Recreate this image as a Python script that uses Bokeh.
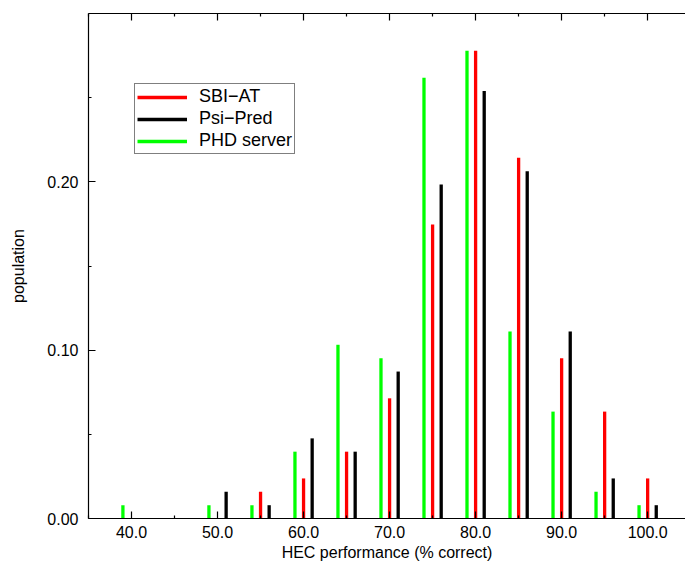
from bokeh.plotting import figure
from bokeh.models import (LinearAxis, FixedTicker, PrintfTickFormatter, Range1d,
                          ColumnDataSource, Legend, LegendItem, CustomJSTickFormatter)
from bokeh.embed import file_html
from bokeh.resources import INLINE

# performance bins (% correct) for each method
sbi_x = [55, 60, 65, 70, 75, 80, 85, 90, 95, 100]
sbi_y = [0.0159, 0.0238, 0.0397, 0.0714, 0.1746, 0.2778, 0.2143, 0.0952, 0.0635, 0.0238]

psi_x = [51, 56, 61, 66, 71, 76, 81, 86, 91, 96, 101]
psi_y = [0.0159, 0.0079, 0.0476, 0.0397, 0.0873, 0.1984, 0.2540, 0.2063, 0.1111, 0.0238, 0.0079]

phd_x = [39, 49, 54, 59, 64, 69, 74, 79, 84, 89, 94, 99]
phd_y = [0.0079, 0.0079, 0.0079, 0.0397, 0.1032, 0.0952, 0.2619, 0.2778, 0.1111, 0.0635, 0.0159, 0.0079]

x_ticks = [40, 50, 60, 70, 80, 90, 100]
x_minor = [35, 45, 55, 65, 75, 85, 95, 105]
y_ticks = [0.0, 0.1, 0.2]
y_minor = [0.05, 0.15, 0.25]

FONT = "Liberation Sans"

p = figure(width=685, height=568, output_backend="svg", toolbar_location=None,
           x_range=Range1d(35, 104.4), y_range=Range1d(0, 0.30),
           min_border_left=88, min_border_right=0, min_border_top=13,
           min_border_bottom=50)
p.xgrid.visible = False
p.ygrid.visible = False
p.outline_line_color = None
p.background_fill_color = "white"
p.border_fill_color = "white"

series = [("SBI\u2212AT", sbi_x, sbi_y, "#ff0000"),
          ("Psi\u2212Pred", psi_x, psi_y, "#000000"),
          ("PHD server", phd_x, phd_y, "#00ff00")]
items = []
for name, xs, ys, col in series:
    src = ColumnDataSource(dict(x=xs, y=ys, y0=[0.0] * len(xs)))
    r = p.segment(x0="x", y0="y0", x1="x", y1="y", source=src,
                  line_color=col, line_width=3.3)
    items.append(LegendItem(label=name, renderers=[r]))

xa = p.xaxis[0]
xa.ticker = FixedTicker(ticks=x_ticks, minor_ticks=x_minor)
ya = p.yaxis[0]
ya.ticker = FixedTicker(ticks=y_ticks, minor_ticks=y_minor)

top = LinearAxis(ticker=FixedTicker(ticks=x_ticks, minor_ticks=x_minor),
                 formatter=CustomJSTickFormatter(code="return '';"))
p.add_layout(top, "above")

for ax in (xa, ya, top):
    ax.axis_line_color = "black"
    ax.axis_line_width = 1.2
    ax.major_tick_in = 7
    ax.major_tick_out = 0
    ax.minor_tick_in = 3
    ax.minor_tick_out = 0
    ax.major_tick_line_width = 1.2
    ax.minor_tick_line_width = 1.2
    ax.major_label_text_font = FONT
    ax.major_label_text_font_size = "16px"
    ax.major_label_text_color = "black"
    ax.axis_label_text_font = FONT
    ax.axis_label_text_font_size = "16px"
    ax.axis_label_text_font_style = "normal"
    ax.axis_label_text_color = "black"

top.major_label_standoff = 0

xa.formatter = PrintfTickFormatter(format="%.1f")
xa.axis_label = "HEC performance (% correct)"
xa.major_label_standoff = 7
xa.axis_label_standoff = 3

ya.formatter = PrintfTickFormatter(format="%.2f")
ya.axis_label = "population"
ya.major_label_standoff = 10
ya.axis_label_standoff = 17

legend = Legend(items=items, location=(46, 364))
legend.label_text_font = FONT
legend.label_text_font_size = "18px"
legend.label_text_color = "black"
legend.border_line_color = "black"
legend.border_line_width = 1
legend.padding = 2
legend.spacing = 1
legend.label_height = 20
legend.glyph_height = 20
legend.glyph_width = 50
legend.label_standoff = 12
legend.margin = 0
legend.background_fill_alpha = 1
p.add_layout(legend, "center")

open("out.html", "w").write(file_html(p, INLINE))
